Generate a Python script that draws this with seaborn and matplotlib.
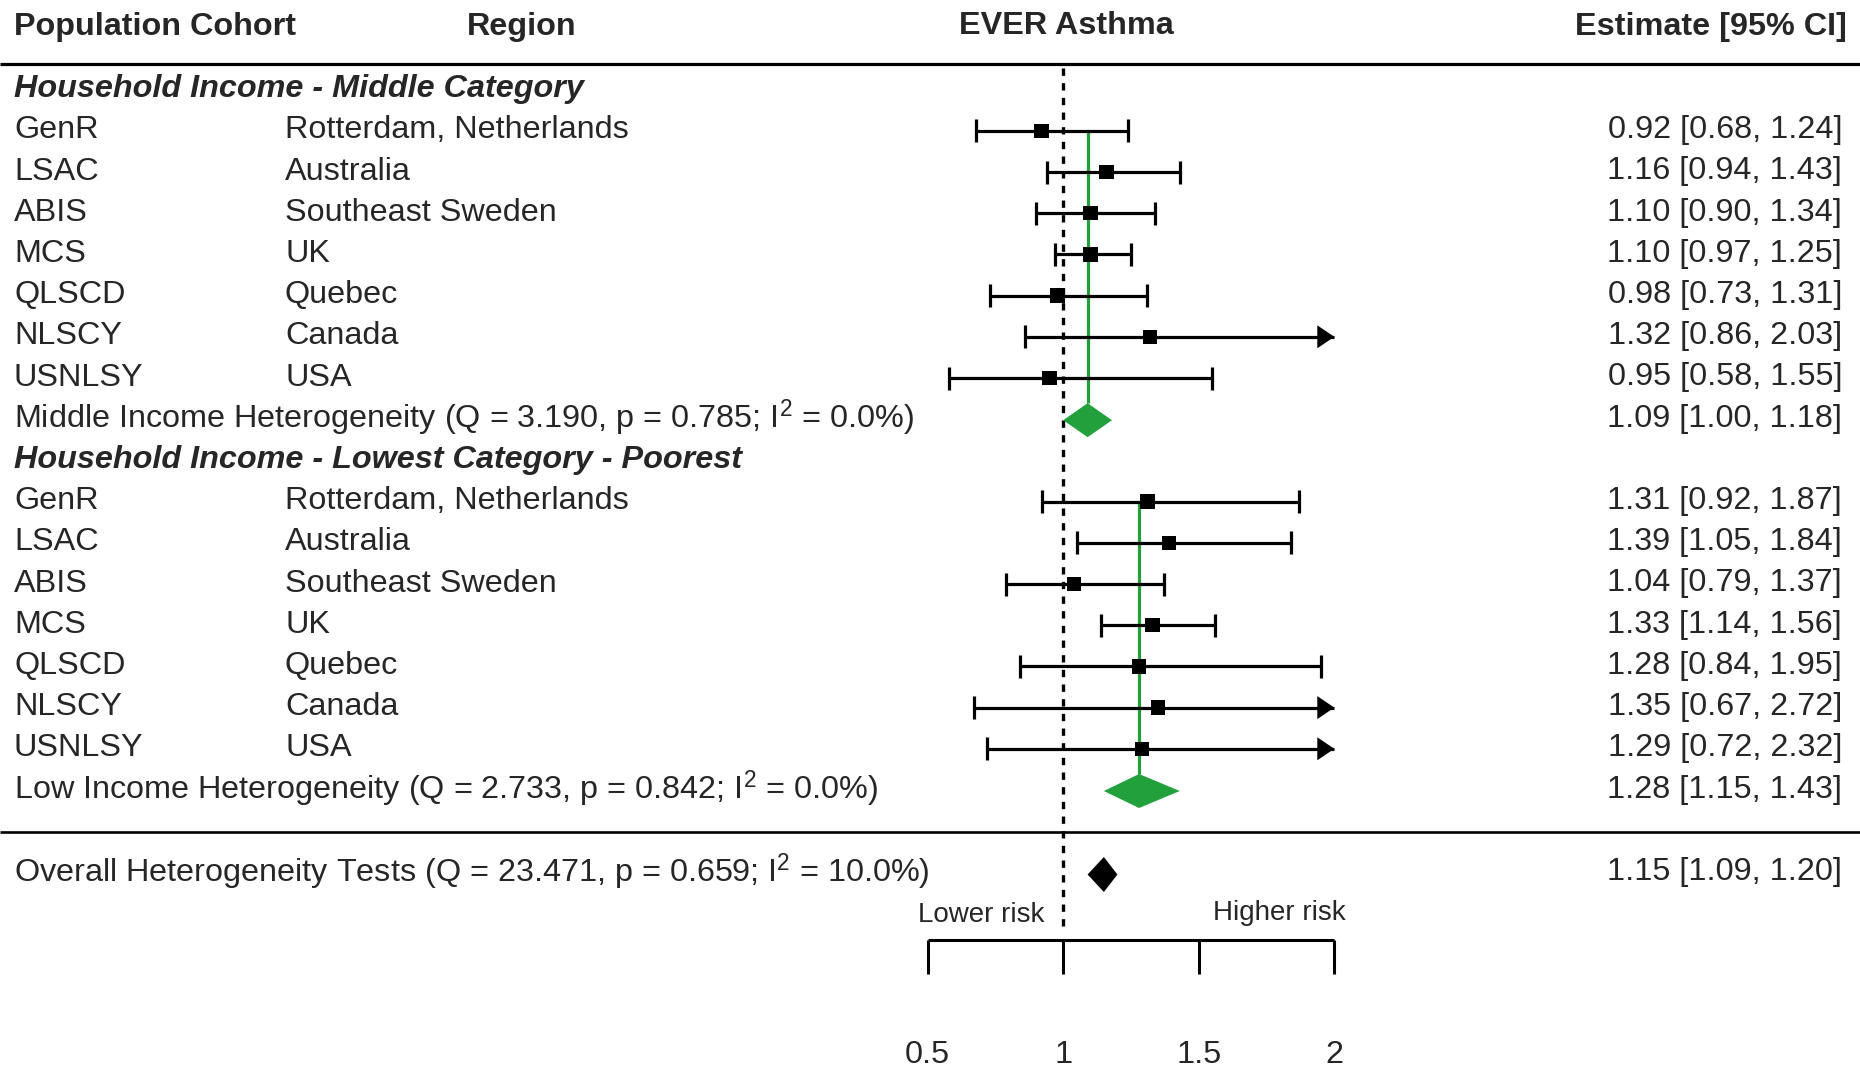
import numpy as np
import pandas as pd
import matplotlib
matplotlib.use("Agg")
import matplotlib.pyplot as plt
import seaborn as sns
from matplotlib.patches import Polygon

# ---------------- data ----------------
cohorts = ["GenR", "LSAC", "ABIS", "MCS", "QLSCD", "NLSCY", "USNLSY"]
regions = ["Rotterdam, Netherlands", "Australia", "Southeast Sweden", "UK",
           "Quebec", "Canada", "USA"]
mid_est = [0.92, 1.16, 1.10, 1.10, 0.98, 1.32, 0.95]
mid_lo = [0.68, 0.94, 0.90, 0.97, 0.73, 0.86, 0.58]
mid_hi = [1.24, 1.43, 1.34, 1.25, 1.31, 2.03, 1.55]
low_est = [1.31, 1.39, 1.04, 1.33, 1.28, 1.35, 1.29]
low_lo = [0.92, 1.05, 0.79, 1.14, 0.84, 0.67, 0.72]
low_hi = [1.87, 1.84, 1.37, 1.56, 1.95, 2.72, 2.32]
pooled_est = [1.09, 1.28]
pooled_lo = [1.00, 1.15]
pooled_hi = [1.18, 1.43]
overall_est, overall_lo, overall_hi = 1.15, 1.09, 1.20
group_titles = ["Household Income - Middle Category",
                "Household Income - Lowest Category - Poorest"]
het_labels = ["Middle Income Heterogeneity (Q = 3.190, p = 0.785; I$^2$ = 0.0%)",
              "Low Income Heterogeneity (Q = 2.733, p = 0.842; I$^2$ = 0.0%)"]
overall_label = "Overall Heterogeneity Tests (Q = 23.471, p = 0.659; I$^2$ = 10.0%)"
col_headers = ["Population Cohort", "Region", "EVER Asthma", "Estimate [95% CI]"]
xticks = [0.5, 1, 1.5, 2]
xtick_labels = ["0.5", "1", "1.5", "2"]
x_clip = 2.0
ref_value = 1.0

# ---------------- style ----------------
sns.set_theme(style="white")
plt.rcParams['font.family'] = ['Liberation Sans', 'DejaVu Sans']
plt.rcParams['mathtext.fontset'] = 'custom'
plt.rcParams['mathtext.rm'] = 'Liberation Sans'
plt.rcParams['mathtext.it'] = 'Liberation Sans:italic'
plt.rcParams['mathtext.bf'] = 'Liberation Sans:bold'
plt.rcParams['mathtext.default'] = 'regular'

W, H = 1860, 1068
PPU = 271.1          # pixels per unit of estimate
X0 = 792.1           # pixel of value 0
def px(p):
    return (p - X0) / PPU

GREEN = "#22a03c"
FS = 23.3
TS = 2.5   # text vertical shift (px)
LW = 2.3

fig = plt.figure(figsize=(W / 100, H / 100), dpi=100)
ax = fig.add_axes([0, 0, 1, 1])
ax.set_xlim(px(0), px(W))
ax.set_ylim(H, 0)
ax.axis("off")

def txt(xp, y, s, **kw):
    ax.text(px(xp), y + TS, s, fontsize=kw.pop("fontsize", FS), va="center", **kw)

# row positions (pixel rows)
Y0, DY = 86.6, 41.2
def row_y(i):
    return Y0 + i * DY
OFF = 3.0  # marks sit slightly below text centre

# headers
hy = 24
txt(14, hy, col_headers[0], fontweight="bold", ha="left")
txt(467, hy, col_headers[1], fontweight="bold", ha="left")
txt(1066, hy, col_headers[2], fontweight="bold", ha="center")
txt(1847, hy, col_headers[3], fontweight="bold", ha="right")

# rules
ax.hlines([64], px(0), px(W), color="black", lw=2.3)
ax.hlines([832], px(0), px(W), color="black", lw=1.9)

# reference dotted line
ax.vlines(ref_value, 68, 926, color="black", lw=2.4, linestyles=[(0, (2.2, 2.2))])

groups = [(mid_est, mid_lo, mid_hi), (low_est, low_lo, low_hi)]
CAP = 11.5
rows = []
for g, (est, lo, hi) in enumerate(groups):
    base = g * 9
    txt(14, row_y(base), group_titles[g], fontweight="bold", fontstyle="italic", ha="left")
    for k in range(len(cohorts)):
        y = row_y(base + 1 + k)
        txt(14, y, cohorts[k], ha="left")
        txt(285, y, regions[k], ha="left")
        txt(1842, y, f"{est[k]:.2f} [{lo[k]:.2f}, {hi[k]:.2f}]", ha="right")
        ym = y + OFF
        right = min(hi[k], x_clip)
        ax.hlines(ym, lo[k], right, color="black", lw=LW, zorder=3)
        ax.vlines(lo[k], ym - CAP, ym + CAP, color="black", lw=LW, zorder=3)
        if hi[k] > x_clip:
            hl = 17 / PPU
            ax.add_patch(Polygon([[x_clip, ym], [x_clip - hl, ym - 11.5],
                                  [x_clip - hl, ym + 11.5]], closed=True,
                                 facecolor="black", edgecolor="none", zorder=4))
        else:
            ax.vlines(hi[k], ym - CAP, ym + CAP, color="black", lw=LW, zorder=3)
        rows.append({"est": est[k], "y": ym})
    # summary
    ys = row_y(base + 8)
    txt(14, ys, het_labels[g], ha="left")
    txt(1842, ys, f"{pooled_est[g]:.2f} [{pooled_lo[g]:.2f}, {pooled_hi[g]:.2f}]", ha="right")
    yd = ys + 4
    ax.vlines(pooled_est[g], row_y(base + 1) + OFF, yd - 17, color=GREEN, lw=2.3, zorder=2)
    ax.add_patch(Polygon([[pooled_lo[g], yd], [pooled_est[g], yd - 17],
                          [pooled_hi[g], yd], [pooled_est[g], yd + 17]],
                         closed=True, facecolor=GREEN, edgecolor="none", zorder=5))

df = pd.DataFrame(rows)
sns.scatterplot(data=df, x="est", y="y", marker="s", s=110, color="black",
                edgecolor="none", linewidth=0, zorder=6, ax=ax, legend=False)
ax.set_xlim(px(0), px(W))
ax.set_ylim(H, 0)
ax.axis("off")

# overall
yo = 869.5
txt(14, yo, overall_label, ha="left")
txt(1842, yo, f"{overall_est:.2f} [{overall_lo:.2f}, {overall_hi:.2f}]", ha="right")
yod = yo + 5
ax.add_patch(Polygon([[overall_lo, yod], [overall_est, yod - 17.5],
                      [overall_hi, yod], [overall_est, yod + 17.5]],
                     closed=True, facecolor="black", edgecolor="none", zorder=5))

# risk labels
txt(1045, 913, "Lower risk", fontsize=20, ha="right")
txt(1213, 911, "Higher risk", fontsize=20, ha="left")

# custom axis
ya = 940
ax.hlines(ya, xticks[0], xticks[-1], color="black", lw=2.2)
ax.vlines(xticks, ya, ya + 34, color="black", lw=2.2)
for t, lab in zip(xticks, xtick_labels):
    ax.text(t, 1055, lab, fontsize=FS, ha="center", va="center")

fig.savefig("out.png", dpi=100)
